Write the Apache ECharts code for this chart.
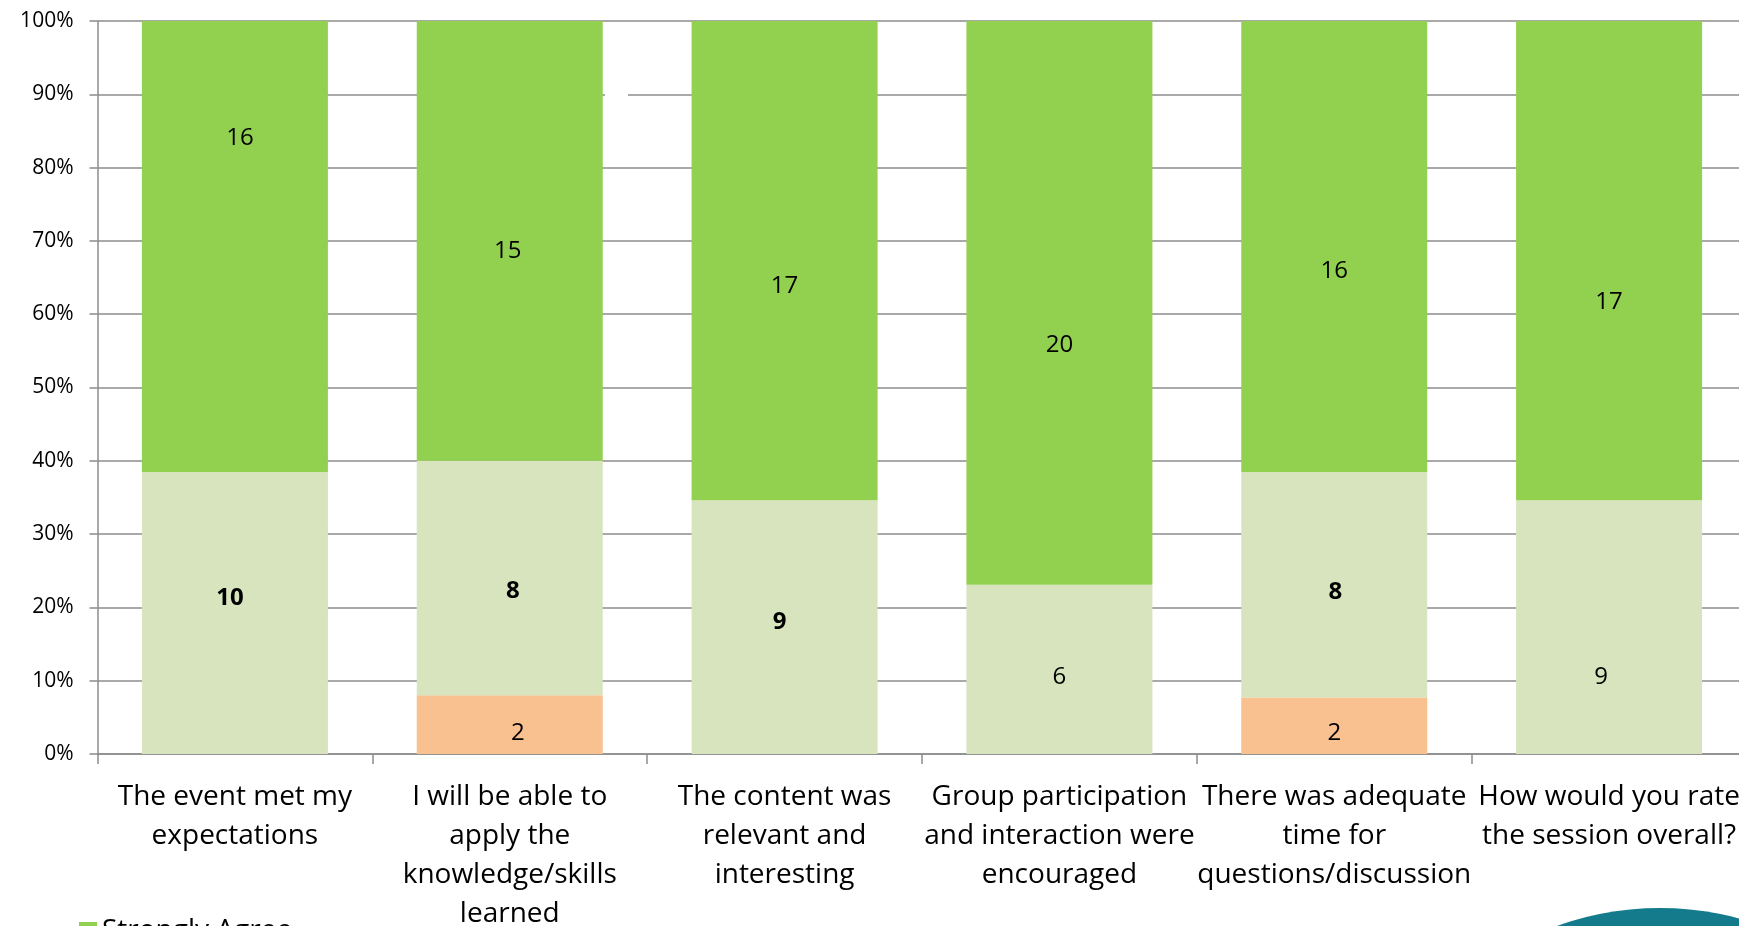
<!DOCTYPE html>
<html>
<head>
<meta charset="utf-8">
<script src="https://cdn.jsdelivr.net/npm/echarts@6/dist/echarts.min.js"></script>
<style>
html,body{margin:0;padding:0;background:#fff;overflow:hidden;}
#chart{width:1739px;height:926px;}
</style>
</head>
<body>
<div id="chart"></div>
<script>
// ---- data ----
const categories = [
  "The event met my\nexpectations",
  "I will be able to\napply the\nknowledge/skills\nlearned",
  "The content was\nrelevant and\ninteresting",
  "Group participation\nand interaction were\nencouraged",
  "There was adequate\ntime for\nquestions/discussion",
  "How would you rate\nthe session overall?"
];
const seriesNames = ["Strongly Agree", "Agree", "Neutral"];
const stronglyAgree = [16, 15, 17, 20, 16, 17];
const agree = [10, 8, 9, 6, 8, 9];
const neutral = [0, 2, 0, 0, 2, 0];
const yTicks = [0, 10, 20, 30, 40, 50, 60, 70, 80, 90, 100];

// ---- label styling (positions of hand-placed labels, bold flags) ----
const labelShift = {
  "Strongly Agree": [[5, -108], [-2, 10], [0, 26], [0, 42], [0, 25], [0, 42]],
  "Agree": [[-5, -15], [3, 13], [-5, -5], [0, 8], [1, 7], [-8, 50]],
  "Neutral": [[0, 0], [8, 8], [0, 0], [0, 0], [0, 7], [0, 0]]
};
const labelBold = {
  "Strongly Agree": [false, false, false, false, false, false],
  "Agree": [true, true, true, false, true, false],
  "Neutral": [false, false, false, false, false, false]
};
const colors = {"Strongly Agree": "#92D050", "Agree": "#D7E4BD", "Neutral": "#F9C090"};

const counts = {"Strongly Agree": stronglyAgree, "Agree": agree, "Neutral": neutral};
const totals = categories.map((c, i) => stronglyAgree[i] + agree[i] + neutral[i]);

const FONT = "'Open Sans', sans-serif";

// stacking order bottom -> top : Neutral, Agree, Strongly Agree
const order = ["Neutral", "Agree", "Strongly Agree"];
const series = order.map(name => ({
  name: name,
  type: 'bar',
  stack: 'total',
  barWidth: 186,
  itemStyle: {color: colors[name]},
  emphasis: {disabled: true},
  data: counts[name].map((v, i) => ({
    value: v / totals[i] * 100,
    count: v,
    label: {
      show: v > 0,
      offset: labelShift[name][i],
      fontWeight: labelBold[name][i] ? 'bold' : 'normal'
    }
  })),
  label: {
    show: true,
    position: 'inside',
    color: '#000',
    fontFamily: FONT,
    fontSize: 24,
    formatter: p => String(p.data.count)
  }
}));

const chart = echarts.init(document.getElementById('chart'), null, {renderer: 'canvas'});
chart.setOption({
  animation: false,
  backgroundColor: '#fff',
  grid: {left: 97.5, top: 21, width: 1649, height: 733, containLabel: false, outerBoundsMode: 'none'},
  legend: {
    data: seriesNames,
    orient: 'vertical',
    left: 74,
    top: 912,
    height: 300,
    itemWidth: 18,
    itemHeight: 18,
    itemGap: 10,
    icon: 'rect',
    textStyle: {fontFamily: FONT, fontSize: 28, color: '#000'},
    selectedMode: false
  },
  xAxis: {
    type: 'category',
    data: categories,
    axisLine: {lineStyle: {color: '#8C8C8C', width: 1.5}},
    axisTick: {show: true, length: 10, lineStyle: {color: '#8C8C8C', width: 1.5}},
    axisLabel: {
      interval: 0,
      margin: 24,
      color: '#000',
      fontFamily: FONT,
      fontSize: 28,
      lineHeight: 39,
      hideOverlap: false
    }
  },
  yAxis: {
    type: 'value',
    min: yTicks[0],
    max: yTicks[yTicks.length - 1],
    interval: yTicks[1] - yTicks[0],
    axisLine: {show: true, lineStyle: {color: '#8C8C8C', width: 1.5}},
    axisTick: {show: true, length: 8, lineStyle: {color: '#8C8C8C', width: 1.5}},
    splitLine: {lineStyle: {color: '#8C8C8C', width: 1.5}},
    axisLabel: {
      margin: 24,
      color: '#000',
      fontFamily: FONT,
      fontSize: 21,
      formatter: '{value}%'
    }
  },
  series: series,
  graphic: [
    {type: 'rect', left: 605, top: 88, shape: {width: 23, height: 14}, style: {fill: '#fff'}, z: 100},
    {type: 'circle', shape: {cx: 1660, cy: 1212, r: 304}, style: {fill: '#137B8B'}, z: 100}
  ]
});
</script>
</body>
</html>
